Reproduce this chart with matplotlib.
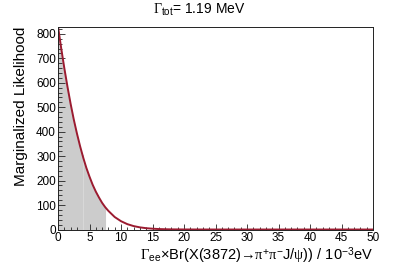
import numpy as np
import matplotlib
matplotlib.use("Agg")
import matplotlib.pyplot as plt
from matplotlib.ticker import MultipleLocator

plt.rcParams['font.family'] = ['Liberation Sans', 'DejaVu Sans']
plt.rcParams['mathtext.fontset'] = 'custom'
plt.rcParams['mathtext.rm'] = 'Liberation Serif'
plt.rcParams['mathtext.it'] = 'Liberation Serif:italic'
plt.rcParams['mathtext.sf'] = 'Liberation Sans'

# curve
gee_br = [0, 0.5, 1, 1.5, 2, 2.5, 3, 3.5, 4, 4.5, 5, 5.5, 6, 6.5, 7, 7.5,
          8, 9, 10, 11, 12, 13, 14, 15, 16, 17, 18, 20, 25, 50]
likelihood = [830, 742, 660, 584, 514, 450, 393, 341, 294, 252, 216, 183, 155,
              131, 109, 91, 76, 51, 34, 22, 14, 8.8, 5.4, 3.3, 1.9, 1.1, 0.6,
              0.2, 0, 0]
band_mid = 3.9     # faint divider inside the shaded band
band_hi = 7.5      # upper edge of the shaded band

x = np.array(gee_br)
y = np.array(likelihood)

fig = plt.figure(figsize=(4.15, 2.69), dpi=100)
ax = fig.add_axes([0.1398, 0.1468, 0.7590, 0.7528])

sel = x <= band_hi
ax.fill_between(x[sel], 0, y[sel], color='#cccccc', lw=0)
ax.plot([band_mid, band_mid], [0, np.interp(band_mid, x, y)],
        color='#d8d8d8', lw=0.8)
ax.plot([band_hi, band_hi], [0, np.interp(band_hi, x, y)],
        color='#cccccc', lw=0.8)
ax.plot(x, y, color='#9b1b30', lw=1.4)

ax.set_xlim(0, 50)
ax.set_ylim(0, 828)
ax.xaxis.set_major_locator(MultipleLocator(5))
ax.xaxis.set_minor_locator(MultipleLocator(1))
ax.yaxis.set_major_locator(MultipleLocator(100))
ax.yaxis.set_minor_locator(MultipleLocator(20))
ax.tick_params(which='both', direction='in', top=False, right=False,
               labelsize=8.5, width=0.6, color='#222222')
ax.tick_params(axis='x', which='major', length=4, pad=1.5)
ax.tick_params(axis='x', which='minor', length=2)
ax.tick_params(axis='y', which='major', length=5, pad=1.5)
ax.tick_params(axis='y', which='minor', length=3)
for s in ax.spines.values():
    s.set_linewidth(0.7)
    s.set_color('#222222')

ax.set_xlabel(r'$\mathrm{\Gamma}_{\mathsf{ee}}$×Br(X(3872)→$\mathrm{\pi}^{\mathsf{+}}\mathrm{\pi}^{\mathsf{-}}$J/$\mathrm{\psi}$)) / 10$^{\mathsf{-3}}$eV',
              fontsize=10.5, loc='right', labelpad=1)
ax.set_ylabel('Marginalized Likelihood', fontsize=11, loc='top', labelpad=6)
fig.text(0.48, 0.962, r'$\mathrm{\Gamma}_{\mathsf{tot}}$= 1.19 MeV',
         fontsize=10, ha='center', va='center')

fig.savefig('out.png', dpi=100)
